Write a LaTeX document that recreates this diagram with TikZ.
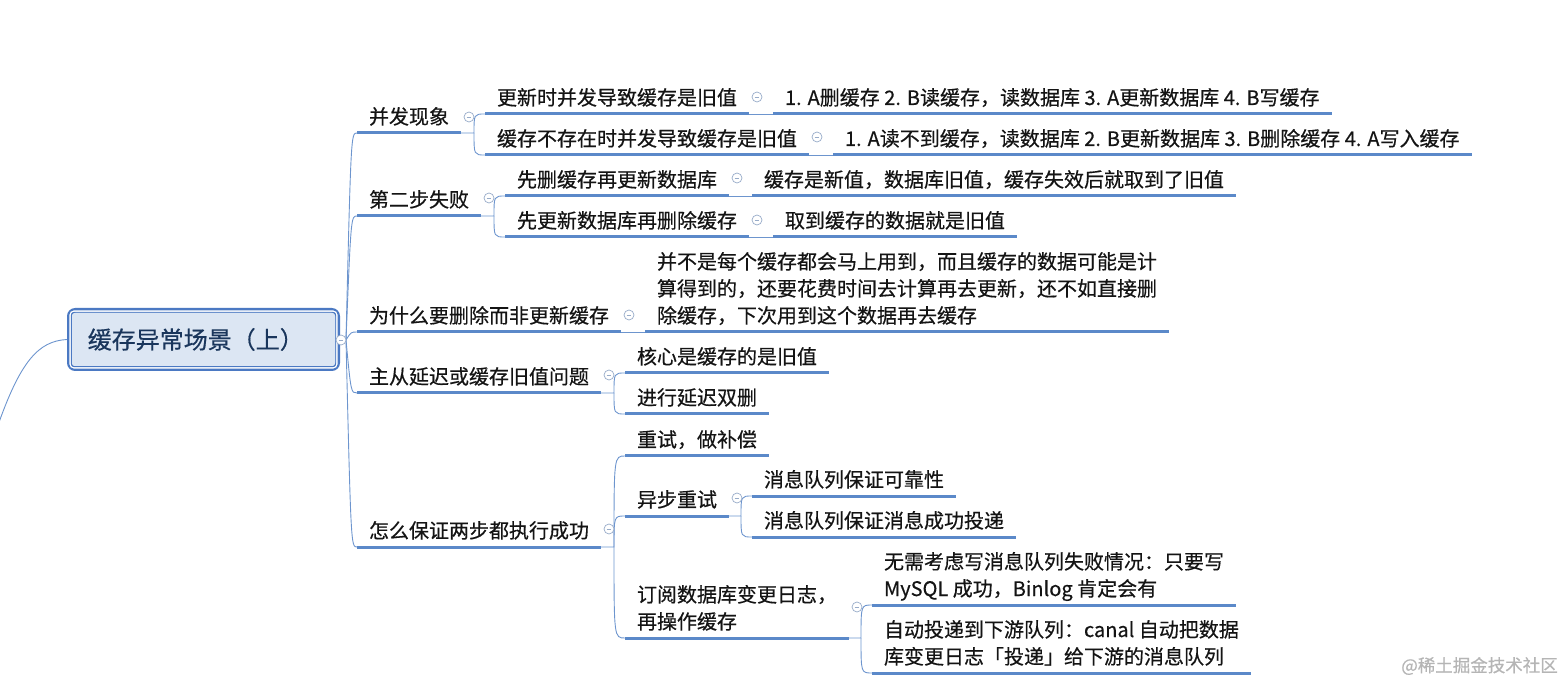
\documentclass[tikz,border=0pt]{standalone}
\usepackage{fontspec}
\setmainfont{Noto Sans CJK SC}[UprightFeatures={FakeBold=0.5}]
\usetikzlibrary{calc}
\definecolor{ublue}{HTML}{5B89C9}
\definecolor{cblue}{HTML}{6D95CE}
\definecolor{rootblue}{HTML}{4B79C3}
\definecolor{rootfill}{HTML}{DCE6F3}
\definecolor{roottext}{HTML}{1A365C}
\definecolor{cgray}{HTML}{98ACC9}
\definecolor{wmgray}{HTML}{B5B5B5}
\definecolor{txt}{HTML}{141414}
\newcommand\tstrut{\rule[-9pt]{0pt}{27pt}}
\tikzset{
  uline/.style={draw=ublue, line width=3pt},
  conn/.style={draw=cblue, line width=0.9pt},
  topic/.style={anchor=south west, inner xsep=12pt, inner ysep=0pt, outer sep=0pt,
    align=left, text=txt, font=\fontsize{20pt}{27pt}\selectfont,
    append after command={(\tikzlastnode.south west) edge[uline] (\tikzlastnode.south east)}},
  collapse/.style={circle, draw=cgray, fill=white, line width=0.7pt, minimum size=10pt,
    inner sep=0pt, path picture={\draw[cgray, line width=0.7pt]
      ([xshift=-2.4pt]path picture bounding box.center) -- ([xshift=2.4pt]path picture bounding box.center);}},
  rootbox/.style={draw=rootblue, line width=4.5pt, rounded corners=6pt, fill=rootfill,
    minimum width=268.5pt, minimum height=58.5pt, text width=231.5pt, inner xsep=18.5pt,
    align=left, text=roottext, font=\fontsize{24pt}{30pt}\selectfont},
  wmark/.style={anchor=east, text=wmgray, font=\fontsize{17.5pt}{20pt}\selectfont, inner sep=0pt}
}
\begin{document}
\begin{tikzpicture}[x=1pt,y=-1pt]
\useasboundingbox (0,0) rectangle (1564,684);

% root
\node[rootbox] (root) at (203.5,339.5) {缓存异常场景（上）};
\draw[white, line width=1.4pt, rounded corners=4pt]
  ($(root.north west)+(3.1,3.1)$) rectangle ($(root.south east)+(-3.1,-3.1)$);
\draw[rootblue, line width=0.9pt, rounded corners=3pt]
  ($(root.north west)+(4.3,4.3)$) rectangle ($(root.south east)+(-4.3,-4.3)$);
\coordinate (lin) at (-3,428);
\draw[conn] (lin) .. controls (20,362) and (38,341) .. (root.west);

% level 1
\node[topic] (a1) at (357,133) {\tstrut 并发现象};
\node[topic] (a2) at (357,216) {\tstrut 第二步失败};
\node[topic] (a3) at (357,332) {\tstrut 为什么要删除而非更新缓存};
\node[topic] (a4) at (357,393) {\tstrut 主从延迟或缓存旧值问题};
\node[topic] (a5) at (357,547) {\tstrut 怎么保证两步都执行成功};

% level 2
\node[topic] (b1) at (485,114) {\tstrut 更新时并发导致缓存是旧值};
\node[topic] (b2) at (485,155) {\tstrut 缓存不存在时并发导致缓存是旧值};
\node[topic] (b3) at (505,196) {\tstrut 先删缓存再更新数据库};
\node[topic] (b4) at (505,237) {\tstrut 先更新数据库再删除缓存};
\node[topic] (b5) at (645,332) {\tstrut 并不是每个缓存都会马上用到，而且缓存的数据可能是计\\\tstrut 算得到的，还要花费时间去计算再去更新，还不如直接删\\\tstrut 除缓存，下次用到这个数据再去缓存};
\node[topic] (b6) at (625,373) {\tstrut 核心是缓存的是旧值};
\node[topic] (b7) at (625,414) {\tstrut 进行延迟双删};
\node[topic] (b8) at (625,456) {\tstrut 重试，做补偿};
\node[topic] (b9) at (625,516) {\tstrut 异步重试};
\node[topic] (b10) at (625,638) {\tstrut 订阅数据库变更日志，\\\tstrut 再操作缓存};

% level 3
\node[topic] (c1) at (773,114) {\tstrut 1. A删缓存 2. B读缓存，读数据库 3. A更新数据库 4. B写缓存};
\node[topic] (c2) at (833,155) {\tstrut 1. A读不到缓存，读数据库 2. B更新数据库 3. B删除缓存 4. A写入缓存};
\node[topic] (c3) at (752,196) {\tstrut 缓存是新值，数据库旧值，缓存失效后就取到了旧值};
\node[topic] (c4) at (773,237) {\tstrut 取到缓存的数据就是旧值};
\node[topic] (c5) at (752,496) {\tstrut 消息队列保证可靠性};
\node[topic] (c6) at (752,537) {\tstrut 消息队列保证消息成功投递};
\node[topic] (c7) at (872,605) {\tstrut 无需考虑写消息队列失败情况：只要写\\\tstrut MySQL 成功，Binlog 肯定会有};
\node[topic] (c8) at (872,673) {\tstrut 自动投递到下游队列：canal 自动把数据\\\tstrut 库变更日志「投递」给下游的消息队列};

% root spine
\coordinate (rp) at (346,340);
\coordinate (rc) at (351,340);
\foreach \n in {a1,a2,a3,a4,a5}
  \draw[conn] (rp) .. controls (rc |- \n.south west) .. (\n.south west);

% branch ports
\coordinate (a1p) at ($(b1.south west |- a1.south east)+(-11,0)$);
\coordinate (a2p) at ($(b3.south west |- a2.south east)+(-11,0)$);
\coordinate (a4p) at ($(b6.south west |- a4.south east)+(-11,0)$);
\coordinate (a5p) at ($(b8.south west |- a5.south east)+(-11,0)$);
\coordinate (b9p) at ($(c5.south west |- b9.south east)+(-11,0)$);
\coordinate (b10p) at ($(c7.south west |- b10.south east)+(-11,0)$);

\draw[conn] (a1.south east) -- (a1p) .. controls (a1p |- b1.south west) .. (b1.south west);
\draw[conn] (a1p) .. controls (a1p |- b2.south west) .. (b2.south west);
\draw[conn] (a2.south east) -- (a2p) .. controls (a2p |- b3.south west) .. (b3.south west);
\draw[conn] (a2p) .. controls (a2p |- b4.south west) .. (b4.south west);
\draw[conn] (a3.south east) -- (b5.south west);
\draw[conn] (a4.south east) -- (a4p) .. controls (a4p |- b6.south west) .. (b6.south west);
\draw[conn] (a4p) .. controls (a4p |- b7.south west) .. (b7.south west);
\draw[conn] (a5.south east) -- (a5p) .. controls (a5p |- b8.south west) .. (b8.south west);
\draw[conn] (a5p) .. controls (a5p |- b9.south west) .. (b9.south west);
\draw[conn] (a5p) .. controls (a5p |- b10.south west) .. (b10.south west);
\draw[conn] (b1.south east) -- (c1.south west);
\draw[conn] (b2.south east) -- (c2.south west);
\draw[conn] (b3.south east) -- (c3.south west);
\draw[conn] (b4.south east) -- (c4.south west);
\draw[conn] (b9.south east) -- (b9p) .. controls (b9p |- c5.south west) .. (c5.south west);
\draw[conn] (b9p) .. controls (b9p |- c6.south west) .. (c6.south west);
\draw[conn] (b10.south east) -- (b10p) .. controls (b10p |- c7.south west) .. (c7.south west);
\draw[conn] (b10p) .. controls (b10p |- c8.south west) .. (c8.south west);

% collapse markers
\node[collapse] (rootx) at ($(root.east)+(1,0.5)$) {};
\node[collapse] (a1x) at ($(a1.south east)+(8,-16)$) {};
\node[collapse] (a2x) at ($(a2.south east)+(8,-18)$) {};
\node[collapse] (a3x) at ($(a3.south east)+(8,-17)$) {};
\node[collapse] (a4x) at ($(a4.south east)+(8,-18)$) {};
\node[collapse] (a5x) at ($(a5.south east)+(8,-18)$) {};
\node[collapse] (b1x) at ($(b1.south east)+(8,-17)$) {};
\node[collapse] (b2x) at ($(b2.south east)+(8,-18)$) {};
\node[collapse] (b3x) at ($(b3.south east)+(8,-18)$) {};
\node[collapse] (b4x) at ($(b4.south east)+(8,-17)$) {};
\node[collapse] (b9x) at ($(b9.south east)+(8,-18)$) {};
\node[collapse] (b10x) at ($(b10.south east)+(8,-31)$) {};

% watermark
\node[wmark] (wm) at (1558,666) {@稀土掘金技术社区};
\end{tikzpicture}
\end{document}
